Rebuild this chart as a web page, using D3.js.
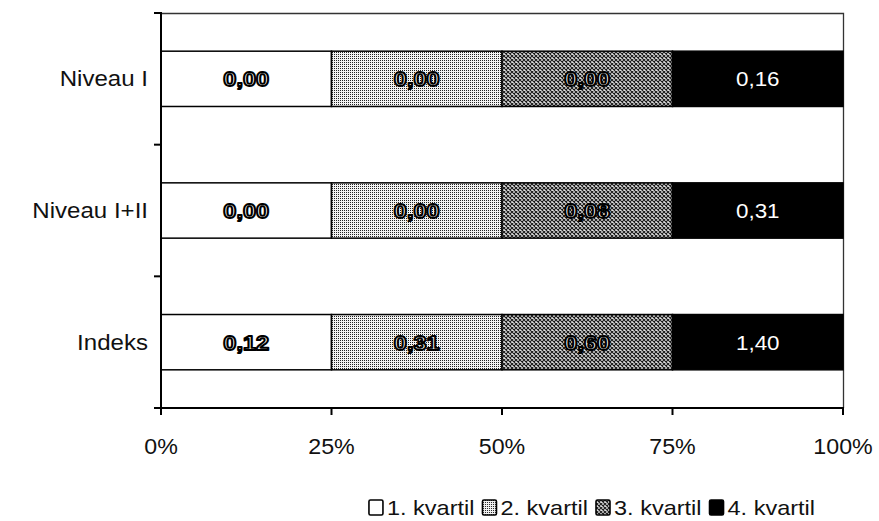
<!DOCTYPE html>
<html><head><meta charset="utf-8">
<script src="https://cdn.jsdelivr.net/npm/d3@7"></script>
<style>body{margin:0;background:#fff}svg{display:block}</style>
</head><body>
<svg id="chart" width="879" height="521"></svg>
<script>
// Rows and quartile groups
const categories = ["Niveau I", "Niveau I+II", "Indeks"];
const quartiles = ["1. kvartil", "2. kvartil", "3. kvartil", "4. kvartil"];
// each quartile covers a quarter of every bar (percent)
const shares = [25, 25, 25, 25];
// mean value inside each quartile, printed in the segments
const valuesNiveauI = [0.00, 0.00, 0.00, 0.16];
const valuesNiveauI_II = [0.00, 0.00, 0.08, 0.31];
const valuesIndeks = [0.12, 0.31, 0.60, 1.40];
const xTickValues = [0, 25, 50, 75, 100];

const rowValues = [valuesNiveauI, valuesNiveauI_II, valuesIndeks];

const svg = d3.select("#chart");
const W = 879, H = 521;
const m = {left: 161, right: 36, top: 13, bottom: 113};
const x0 = m.left, x1 = W - m.right, y0 = m.top, y1 = H - m.bottom;
const FONT = "'Liberation Sans', Arial, Helvetica, sans-serif";
const sx = 1.12; // horizontal text stretch

const x = d3.scaleLinear().domain([0, 100]).range([x0, x1]);
const y = d3.scaleBand().domain(categories).range([y0, y1]).paddingInner(0.58).paddingOuter(0.29);

const fmt = d3.formatLocale({decimal: ",", thousands: ".", grouping: [3], currency: ["", ""]}).format(".2f");

// fill patterns
const defs = svg.append("defs");
const p2 = defs.append("pattern").attr("id", "q2").attr("width", 2).attr("height", 2).attr("patternUnits", "userSpaceOnUse");
p2.append("rect").attr("width", 2).attr("height", 2).attr("fill", "#f2f2f2");
p2.append("rect").attr("width", 1).attr("height", 1).attr("fill", "#222");
const p3 = defs.append("pattern").attr("id", "q3").attr("width", 4).attr("height", 4).attr("patternUnits", "userSpaceOnUse");
p3.append("rect").attr("width", 4).attr("height", 4).attr("fill", "#e0e0e0");
p3.append("path").attr("d", "M0,0L4,4M4,0L0,4").attr("stroke", "#1a1a1a").attr("stroke-width", 1.1);
const fills = ["#ffffff", "url(#q2)", "url(#q3)", "#000000"];

// plot frame (top and right)
svg.append("path")
  .attr("d", `M${x0},${y0 + 0.5}H${x1 + 0.5}V${y1}`)
  .attr("fill", "none").attr("stroke", "#333").attr("stroke-width", 1.3);

// stacked segments
const stackData = categories.map(c => {
  const o = {cat: c};
  quartiles.forEach((q, j) => { o[q] = shares[j]; });
  return o;
});
const series = d3.stack().keys(quartiles)(stackData);

const gBars = svg.append("g");
series.forEach((s, j) => {
  gBars.selectAll(null).data(s).join("rect")
    .attr("x", d => x(d[0]))
    .attr("y", d => y(d.data.cat))
    .attr("width", d => x(d[1]) - x(d[0]))
    .attr("height", y.bandwidth())
    .attr("fill", fills[j])
    .attr("stroke", "#000").attr("stroke-width", 1.5);
});

// value labels
series.forEach((s, j) => {
  s.forEach((d, i) => {
    const cx = (x(d[0]) + x(d[1])) / 2;
    const cy = y(d.data.cat) + y.bandwidth() / 2 + 7.5;
    const t = svg.append("text")
      .attr("transform", `translate(${cx},${cy}) scale(${sx},1)`)
      .attr("text-anchor", "middle")
      .attr("font-family", FONT)
      .text(fmt(rowValues[i][j]));
    if (j === 3) {
      t.attr("font-size", 20).attr("fill", "#fff");
    } else {
      t.attr("font-size", 21).attr("font-weight", "bold")
        .attr("fill", "#fff").attr("stroke", "#000").attr("stroke-width", 1.9)
        .attr("stroke-linejoin", "round");
    }
  });
});

// axes
svg.append("line").attr("x1", x0).attr("x2", x0).attr("y1", y0 - 1).attr("y2", y1 + 7)
  .attr("stroke", "#000").attr("stroke-width", 2);
svg.append("line").attr("x1", x0 - 1).attr("x2", x1 + 1).attr("y1", y1).attr("y2", y1)
  .attr("stroke", "#000").attr("stroke-width", 2);

// x ticks
const gx = svg.append("g");
xTickValues.forEach(v => {
  gx.append("line").attr("x1", x(v)).attr("x2", x(v)).attr("y1", y1).attr("y2", y1 + 7)
    .attr("stroke", "#000").attr("stroke-width", 2);
  gx.append("text")
    .attr("transform", `translate(${x(v)},${y1 + 46}) scale(1.08,1)`)
    .attr("text-anchor", "middle").attr("font-family", FONT).attr("font-size", 21.5)
    .attr("fill", "#111").text(v + "%");
});

// y ticks between rows
const step = y.step();
const gy = svg.append("g");
d3.range(categories.length + 1).forEach(k => {
  const yy = y0 + k * step;
  gy.append("line").attr("x1", x0 - 7).attr("x2", x0).attr("y1", yy).attr("y2", yy)
    .attr("stroke", "#000").attr("stroke-width", 2);
});
categories.forEach(c => {
  gy.append("text")
    .attr("transform", `translate(${x0 - 13},${y(c) + y.bandwidth() / 2 + 7.5}) scale(${sx},1)`)
    .attr("text-anchor", "end").attr("font-family", FONT).attr("font-size", 21.5)
    .attr("fill", "#111").text(c);
});

// legend
const gl = svg.append("g");
const legY = 515;
let cursor = 0;
quartiles.forEach((q, j) => {
  const g = gl.append("g");
  g.append("rect").attr("x", cursor).attr("y", legY - 15).attr("width", 14).attr("height", 15)
    .attr("rx", 1.5).attr("fill", fills[j]).attr("stroke", "#000").attr("stroke-width", 1.6);
  const t = g.append("text")
    .attr("transform", `translate(${cursor + 18},${legY}) scale(${sx},1)`)
    .attr("font-family", FONT).attr("font-size", 21).attr("fill", "#111").text(q);
  const w = t.node().getComputedTextLength() * sx;
  cursor += 18 + w + 8;
});
const legW = cursor - 8;
gl.attr("transform", `translate(${(362 + 822) / 2 - legW / 2},0)`);
</script>
</body></html>
